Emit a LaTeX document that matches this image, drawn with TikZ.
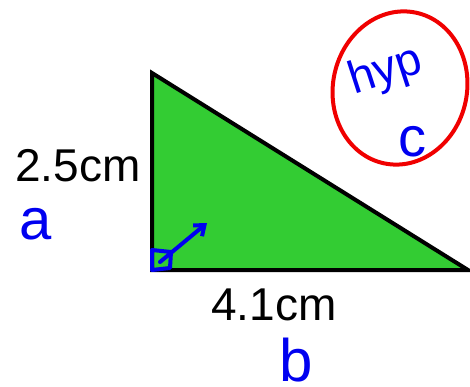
\documentclass[tikz,border=0pt]{standalone}
\usepackage{fontspec}
\setmainfont{Liberation Sans}
\usetikzlibrary{arrows.meta}
\definecolor{tgreen}{RGB}{51,204,51}
\definecolor{pblue}{RGB}{0,0,240}
\definecolor{pred}{RGB}{240,0,0}
\begin{document}
\begin{tikzpicture}[x=1pt,y=-1pt,
  meas/.style={font=\fontsize{46}{50}\selectfont, inner sep=0pt},
  pen/.style={text=pblue, font=\fontsize{44}{48}\selectfont, inner sep=0pt},
  ink/.style={draw=pblue, line width=4pt, line cap=round, line join=round}]
\useasboundingbox (0,0) rectangle (470,387);
\coordinate (A) at (152,73);
\coordinate (B) at (152,270);
\coordinate (C) at (468,270);
\draw[fill=tgreen, line width=4pt, line join=miter] (A) -- (B) -- (C) -- cycle;
\node[meas] (h) at (78,166) {2.5cm};
\node[meas] (w) at (274,305) {4.1cm};
% right angle mark and arrow
\coordinate (r1) at (152,250);
\coordinate (r2) at (171,252);
\coordinate (r3) at (170,268);
\coordinate (ra) at (160,262);
\coordinate (rb) at (207,223);
\draw[ink] (r1) -- (r2) -- (r3) -- (B) -- (r1);
\draw[ink, -{Straight Barb[length=9pt,width=14pt]}] (ra) -- (rb);
% labels
\node[pen, font=\fontsize{58}{62}\selectfont] (la) at (36,224) {a};
\node[pen, font=\fontsize{60}{64}\selectfont] (lb) at (296,360) {b};
\node[pen, rotate=18, font=\fontsize{46}{50}\selectfont] (hyp) at (386,72) {hyp};
\node[pen, font=\fontsize{56}{60}\selectfont] (lc) at (412,142) {c};
\draw[pred, line width=4pt, rotate around={-12:(400,88)}] (400,88) ellipse [x radius=67, y radius=77];
\end{tikzpicture}
\end{document}
